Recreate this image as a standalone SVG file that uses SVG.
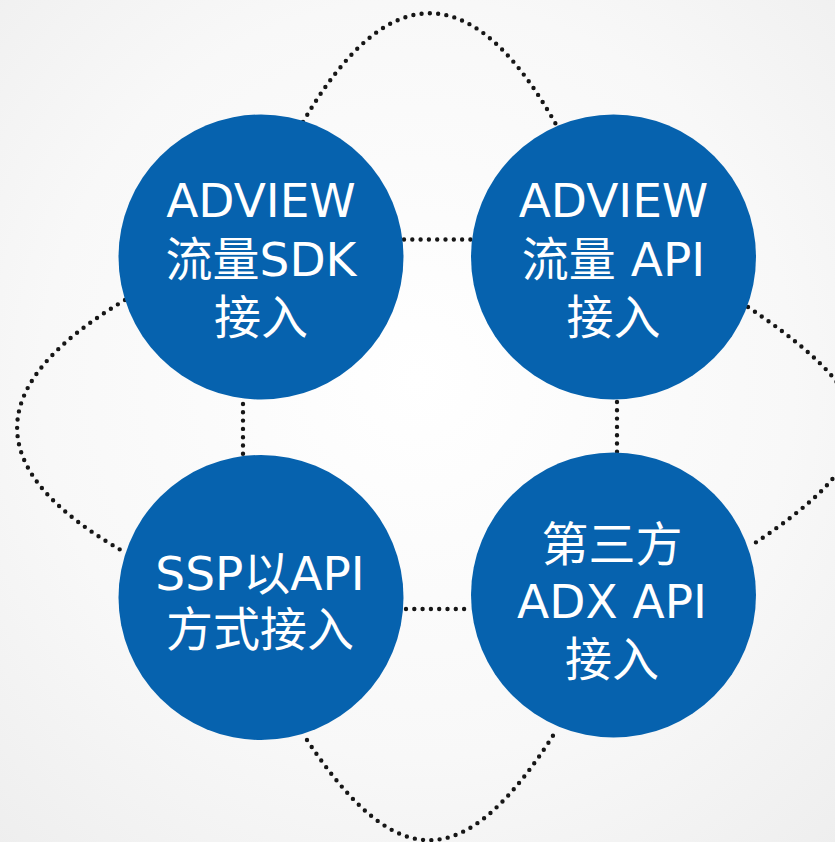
<svg xmlns="http://www.w3.org/2000/svg" width="835" height="842" viewBox="0 0 835 842">
<defs>
<radialGradient id="bg" cx="0.5" cy="0.45" r="0.75">
<stop offset="0" stop-color="#ffffff"/>
<stop offset="0.6" stop-color="#f8f8f8"/>
<stop offset="1" stop-color="#eeeeee"/>
</radialGradient>
<style>
.dot{fill:none;stroke:#161616;stroke-width:4.4;stroke-linecap:round;stroke-dasharray:0 8.3}
.node{fill:#0662ae}
.lbl{fill:#ffffff;font-family:"DejaVu Sans","Noto Sans CJK SC",sans-serif;font-size:47px;text-anchor:middle}
</style>
</defs>
<rect x="0" y="0" width="835" height="842" fill="url(#bg)"/>
<g id="connectors">
<path class="dot" d="M303,122 C388,-24 474,-24 558,128"/>
<path class="dot" d="M125,300 C-19,386 -19,471 126,553"/>
<path class="dot" d="M748,307 C887,401 893,451 752,545"/>
<path class="dot" d="M307,740 C397,875 465,875 556,731"/>
<path class="dot" d="M404,239.5 L471,239.5"/>
<path class="dot" d="M243,404 L243,461"/>
<path class="dot" d="M617,402 L617,459"/>
<path class="dot" d="M406,609 L468,609"/>
</g>
<g id="node-sdk">
<circle class="node" cx="261" cy="257" r="142.5"/>
<text class="lbl"><tspan x="261" y="217">ADVIEW</tspan><tspan x="261" y="276">流量SDK</tspan><tspan x="261" y="334">接入</tspan></text>
</g>
<g id="node-api">
<circle class="node" cx="613.5" cy="257" r="142.5"/>
<text class="lbl"><tspan x="613.5" y="217">ADVIEW</tspan><tspan x="613.5" y="276">流量 API</tspan><tspan x="613.5" y="334">接入</tspan></text>
</g>
<g id="node-ssp">
<circle class="node" cx="261" cy="597.5" r="142.5"/>
<text class="lbl"><tspan x="260" y="590">SSP以API</tspan><tspan x="260" y="646">方式接入</tspan></text>
</g>
<g id="node-adx">
<circle class="node" cx="613.5" cy="595" r="142.5"/>
<text class="lbl"><tspan x="612" y="561">第三方</tspan><tspan x="612" y="618">ADX API</tspan><tspan x="612" y="676">接入</tspan></text>
</g>
</svg>
